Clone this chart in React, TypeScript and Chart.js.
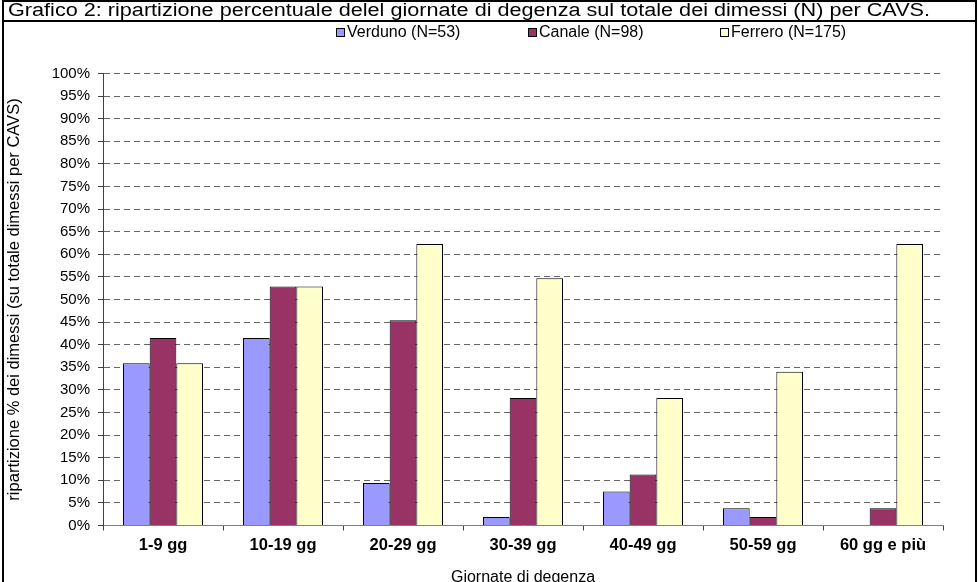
import React, { useEffect, useRef } from "react";
import { Chart, registerables } from "chart.js";

Chart.register(...registerables);

const chartTitle =
  "Grafico 2: ripartizione percentuale delel giornate di degenza sul totale dei dimessi (N) per CAVS.";
const categories = ["1-9 gg", "10-19 gg", "20-29 gg", "30-39 gg", "40-49 gg", "50-59 gg", "60 gg e più"];
const seriesLabels = ["Verduno (N=53)", "Canale (N=98)", "Ferrero (N=175)"];
const verduno = [35.9, 41.5, 9.4, 1.9, 7.5, 3.8, 0];
const canale = [41.5, 52.9, 45.4, 28.2, 11.3, 1.9, 3.8];
const ferrero = [35.9, 52.9, 62.3, 54.7, 28.2, 34.0, 62.3];
const seriesColors = ["#9999FF", "#993366", "#FFFFCC"];
const yMin = 0;
const yMax = 100;
const yStep = 5;
const yAxisTitle = "ripartizione % dei dimessi (su totale dimessi per CAVS)";
const xAxisTitle = "Giornate di degenza";

const FONT = "'Liberation Sans', Arial, Helvetica, sans-serif";

const framePlugin = {
  id: "frameAndLegend",
  beforeDraw(chart: any) {
    const ctx = chart.ctx as CanvasRenderingContext2D;
    ctx.save();
    ctx.fillStyle = "#ffffff";
    ctx.fillRect(0, 0, chart.width, chart.height);
    // outer frame
    ctx.strokeStyle = "#000000";
    ctx.lineWidth = 2;
    ctx.strokeRect(3, 1, 973, 640);
    ctx.beginPath();
    ctx.moveTo(3, 21);
    ctx.lineTo(976, 21);
    ctx.stroke();
    // title
    ctx.fillStyle = "#000000";
    ctx.font = `18px ${FONT}`;
    ctx.textBaseline = "middle";
    ctx.textAlign = "left";
    const w = ctx.measureText(chartTitle).width;
    const sx = 922 / w;
    ctx.save();
    ctx.translate(8, 11);
    ctx.scale(sx, 1);
    ctx.fillText(chartTitle, 0, 0);
    ctx.restore();
    // legend
    const legendX = [336, 528, 720];
    const legendY = 33;
    ctx.font = `16px ${FONT}`;
    chart.data.datasets.forEach((ds: any, i: number) => {
      const x = legendX[i];
      ctx.fillStyle = ds.backgroundColor;
      ctx.fillRect(x, legendY - 5, 9, 9);
      ctx.lineWidth = 1;
      ctx.strokeStyle = "#000000";
      ctx.strokeRect(x + 0.5, legendY - 4.5, 8, 8);
      ctx.fillStyle = "#000000";
      ctx.fillText(ds.label, x + 11, legendY);
    });
    ctx.restore();
  },
};

export default function App() {
  const canvasRef = useRef<HTMLCanvasElement | null>(null);

  useEffect(() => {
    if (!canvasRef.current) return;
    Chart.defaults.font.family = FONT;
    const chart = new Chart(canvasRef.current, {
      type: "bar",
      data: {
        labels: categories,
        datasets: [
          { label: seriesLabels[0], data: verduno, backgroundColor: seriesColors[0] },
          { label: seriesLabels[1], data: canale, backgroundColor: seriesColors[1] },
          { label: seriesLabels[2], data: ferrero, backgroundColor: seriesColors[2] },
        ].map((d) => ({
          ...d,
          borderColor: "#000000",
          borderWidth: 1,
          borderSkipped: "start" as const,
          categoryPercentage: 0.6667,
          barPercentage: 1.0,
        })),
      },
      options: {
        responsive: false,
        animation: false,
        devicePixelRatio: 1,
        layout: { padding: { left: 5, right: 35, top: 73.5, bottom: 0 } },
        plugins: {
          legend: { display: false },
          title: { display: false },
          tooltip: { enabled: false },
        },
        scales: {
          x: {
            offset: true,
            grid: {
              offset: true,
              drawOnChartArea: false,
              drawTicks: true,
              tickLength: 5,
              tickColor: "#404040",
              tickWidth: 1,
            },
            border: { display: true, color: "#808080", width: 1 },
            ticks: {
              color: "#000000",
              font: { size: 16.5, weight: "bold", family: FONT },
              padding: 5,
              maxRotation: 0,
              autoSkip: false,
            },
            title: {
              display: true,
              text: xAxisTitle,
              color: "#000000",
              font: { size: 16, family: FONT },
              padding: { top: 0, bottom: 13 },
            },
            afterFit(scale: any) {
              scale.height = 74.5;
            },
          },
          y: {
            min: yMin,
            max: yMax,
            grid: {
              color: "#666666",
              lineWidth: 1,
              drawTicks: true,
              tickLength: 5,
              tickColor: "#404040",
              tickWidth: 1,
              tickBorderDash: [],
            },
            border: { display: true, color: "#404040", width: 1, dash: [6, 4] },
            ticks: {
              stepSize: yStep,
              color: "#000000",
              font: { size: 15, family: FONT },
              padding: 8,
              callback: (v: any) => `${v}%`,
            },
            title: {
              display: true,
              text: yAxisTitle,
              color: "#000000",
              font: { size: 16.5, family: FONT },
              padding: { top: 0, bottom: 0 },
            },
            afterFit(scale: any) {
              scale.width = 98;
            },
          },
        },
      },
      plugins: [framePlugin],
    } as any);
    return () => chart.destroy();
  }, []);

  return (
    <div
      style={{
        position: "fixed",
        left: 0,
        top: 0,
        width: 978,
        height: 582,
        overflow: "hidden",
        background: "#ffffff",
      }}
    >
      <canvas ref={canvasRef} width={978} height={600} style={{ display: "block", width: 978, height: 600 }} />
    </div>
  );
}
